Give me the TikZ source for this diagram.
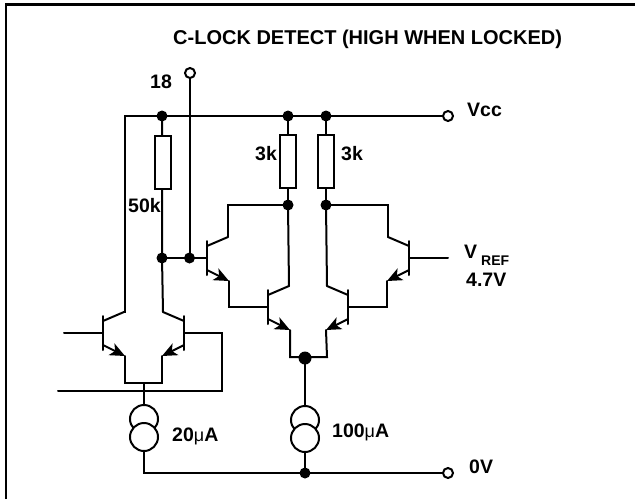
\documentclass[tikz,border=0pt]{standalone}
\usepackage{fontspec}
\setmainfont{Liberation Sans}
\usetikzlibrary{arrows.meta}
\tikzset{
  x=1pt,y=-1pt,
  wire/.style={line width=2pt,line cap=round,line join=miter},
  junction/.style={circle,fill=black,inner sep=0pt,minimum size=11pt},
  bigjunction/.style={circle,fill=black,inner sep=0pt,minimum size=13pt},
  terminal/.style={circle,draw=black,fill=white,line width=2pt,inner sep=0pt,minimum size=10pt},
  resistor/.style={draw=black,fill=white,line width=2pt,inner sep=0pt,minimum width=16pt,minimum height=53pt},
  source/.style={circle,draw=black,fill=white,line width=2pt,inner sep=0pt,minimum size=28pt},
  lab/.style={font=\fontsize{19.5pt}{22pt}\bfseries\selectfont,inner sep=0pt,anchor=base west},
  sublab/.style={font=\fontsize{14pt}{16pt}\bfseries\selectfont,inner sep=0pt,anchor=base west},
  emit/.style={wire,-{Stealth[length=15pt,width=13pt,inset=4pt]}}
}
\newcommand{\mymu}{{\fontsize{18pt}{20pt}\mdseries\selectfont μ}}
% #1 name, #2 bar x, #3 base y, #4 +1/-1 direction of collector/emitter
\newcommand{\bjt}[4]{%
  \coordinate (#1b) at (#2,#3);
  \coordinate (#1c) at ({#2+#4*21},#3-21);
  \coordinate (#1e) at ({#2+#4*22},#3+23);
  \draw[wire] ({#2},#3-17) -- ({#2},#3+17);
  \draw[wire] ({#2},#3-12) -- (#1c);
  \draw[emit] ({#2},#3+12) -- (#1e);
}
\begin{document}
\begin{tikzpicture}
\useasboundingbox (0,0) rectangle (635,499);
\fill[white] (0,0) rectangle (635,499);
\draw[line width=2.4pt] (6,499) -- (6,4.5) -- (635,4.5);

\bjt{QA}{103}{333}{1}
\bjt{QB}{184}{333}{-1}
\bjt{QC}{207}{258}{1}
\bjt{QD}{268}{307}{1}
\bjt{QE}{348}{307}{-1}
\bjt{QF}{409}{258}{-1}

\coordinate (tl) at (124.5,116);
\coordinate (tailA) at (125,383);
\coordinate (tailB) at (162,383);
\coordinate (tailM) at (144,383);
\coordinate (tie1) at (222,333);
\coordinate (tie2) at (222,391);
\coordinate (tie3) at (58,391);
\coordinate (inA) at (64,333);
\coordinate (inF) at (448,258);
\coordinate (gnd) at (144,473);
\coordinate (c1) at (228,205);
\coordinate (c2) at (388,205);
\coordinate (m1) at (229,307);
\coordinate (m2) at (387,307);
\coordinate (k1) at (290,357);
\coordinate (k2) at (327,357);
\coordinate (n1) at (162,116);
\coordinate (n2) at (162,258);
\coordinate (n3) at (190,73);
\coordinate (n4) at (190,258);
\coordinate (n5) at (288,116);
\coordinate (n6) at (326,116);
\coordinate (n7) at (288,205);
\coordinate (n8) at (326,205);
\coordinate (n9) at (305,358);
\coordinate (n10) at (305,473);
\coordinate (n11) at (448,116);
\coordinate (n12) at (448,473);

\draw[wire] (n11) -- (tl) -- (tl |- QAc) -- (QAc);
\draw[wire] (n1) -- (n2) -- (QBc);
\draw[wire] (n3) -- (n4);
\draw[wire] (n2) -- (QCb);
\draw[wire] (n5) -- (n7);
\draw[wire] (n6) -- (n8);
\draw[wire] (n7) -- (c1) -- (QCc);
\draw[wire] (n7) -- (QDc);
\draw[wire] (n8) -- (QEc);
\draw[wire] (n8) -- (c2) -- (QFc);
\draw[wire] (QCe) -- (m1) -- (QDb);
\draw[wire] (QFe) -- (m2) -- (QEb);
\draw[wire] (QDe) -- (k1) -- (k2) -- (QEe);
\draw[wire] (inA) -- (QAb);
\draw[wire] (QFb) -- (inF);
\draw[wire] (QAe) -- (tailA) -- (tailB) -- (QBe);
\draw[wire] (QBb) -- (tie1) -- (tie2) -- (tie3);
\draw[wire] (tailM) -- (144,404);
\draw[wire] (144,450) -- (gnd) -- (n12);
\draw[wire] (n9) -- (305,405);
\draw[wire] (305,450) -- (n10);

\node[source] (s1a) at (144,419) {};
\node[source] (s1b) at (144,437) {};
\node[source] (s2a) at (305,420) {};
\node[source] (s2b) at (305,438) {};
\node[terminal] (t18) at (n3) {};
\node[terminal] (tvcc) at (n11) {};
\node[terminal] (t0v) at (n12) {};
\node[junction] (d1) at (n1) {};
\node[junction] (d2) at (n5) {};
\node[junction] (d3) at (n6) {};
\node[junction] (d4) at (n7) {};
\node[junction] (d5) at (n8) {};
\node[junction] (d6) at (n2) {};
\node[junction] (d7) at (189.5,258) {};
\node[bigjunction] (d8) at (n9) {};
\node[junction] (d9) at (n10) {};
\node[resistor] (r1) at (162.5,162.5) {};
\node[resistor] (r2) at (288,161) {};
\node[resistor] (r3) at (326,161) {};

\node[lab,font=\fontsize{20pt}{22pt}\bfseries\selectfont] (title) at (173,44) {C-LOCK DETECT (HIGH WHEN LOCKED)};
\node[lab] (l18) at (150,88) {18};
\node[lab] (lvcc) at (467,116) {Vcc};
\node[lab] (l0v) at (469,473) {0V};
\node[lab] (l50) at (128,212) {50k};
\node[lab] (l3a) at (255,160) {3k};
\node[lab] (l3b) at (341,160) {3k};
\node[lab] (lv) at (464,258) {V};
\node[sublab] (lref) at (481,265) {REF};
\node[lab] (l47) at (466,286) {4.7V};
\node[lab] (l20) at (172,441) {20\mymu A};
\node[lab] (l100) at (332,437) {100\mymu A};
\end{tikzpicture}
\end{document}
